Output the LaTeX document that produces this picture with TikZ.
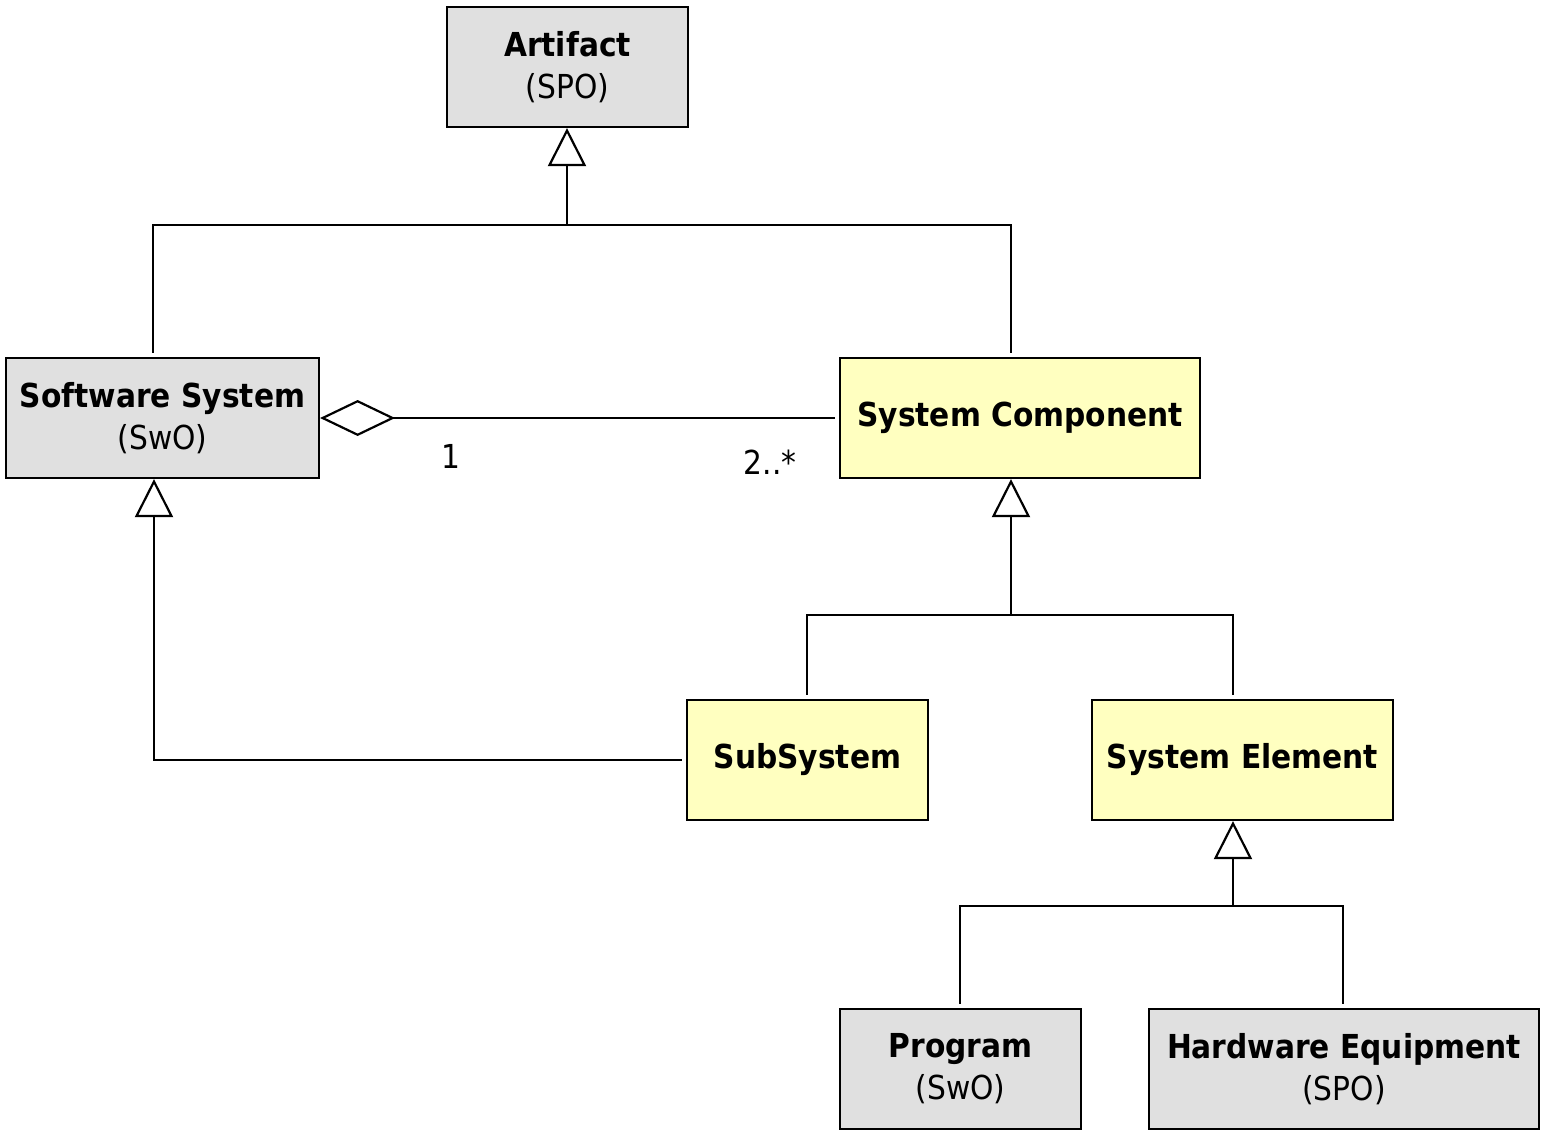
\documentclass[tikz,border=0pt]{standalone}
\usepackage{fontspec}
\setmainfont[FakeStretch=0.9]{DejaVu Sans}
\usetikzlibrary{arrows.meta}
\definecolor{boxgray}{HTML}{E0E0E0}
\definecolor{boxyellow}{HTML}{FFFFC0}
\tikzset{
  box/.style={draw=black, line width=1.1pt, align=center, inner sep=0pt,
    font=\fontsize{16.5}{21}\selectfont},
  graybox/.style={box, fill=boxgray},
  yellowbox/.style={box, fill=boxyellow},
  conn/.style={line width=1.35pt},
  gen/.style={conn, -{Triangle[open, length=19pt, width=19pt, line width=1.1pt]}},
  agg/.style={conn, -{Diamond[open, length=37.5pt, width=18pt, line width=1.1pt]}},
  mult/.style={font=\fontsize{16.5}{21}\selectfont, inner sep=0pt}
}
\begin{document}
\begin{tikzpicture}[x=0.5pt, y=-0.5pt]
\useasboundingbox (0,0) rectangle (1551,1140);
% boxes
\node[graybox, minimum width=120.5pt, minimum height=60pt] (art) at (567.5,67) {\textbf{Artifact}\\(SPO)};
\node[graybox, minimum width=156.5pt, minimum height=60pt] (ss) at (162.5,418) {\textbf{Software System}\\(SwO)};
\node[yellowbox, minimum width=180pt, minimum height=60pt] (sc) at (1020,418) {\textbf{System Component}};
\node[yellowbox, minimum width=120.5pt, minimum height=60pt] (sub) at (807.5,760) {\textbf{SubSystem}};
\node[yellowbox, minimum width=150.5pt, minimum height=60pt] (se) at (1242.5,760) {\textbf{System Element}};
\node[graybox, minimum width=120.5pt, minimum height=60pt] (prog) at (960.5,1069) {\textbf{Program}\\(SwO)};
\node[graybox, minimum width=195pt, minimum height=60pt] (hw) at (1344,1069) {\textbf{Hardware Equipment}\\(SPO)};
% junction coordinates
\coordinate (jA) at (567,225);
\coordinate (jAL) at (153,225);
\coordinate (jAR) at (1011,225);
\coordinate (jC) at (1011,615);
\coordinate (jCL) at (807,615);
\coordinate (jCR) at (1233,615);
\coordinate (jS) at (154,760);
\coordinate (jE) at (1233,906);
\coordinate (jEL) at (960,906);
\coordinate (jER) at (1343,906);
% Artifact generalization
\draw[gen] (jA) -- (jA |- art.south);
\draw[conn, shorten <=2pt, shorten >=2pt] (jAL |- ss.north) -- (jAL) -- (jAR) -- (jAR |- sc.north);
% aggregation
\draw[agg, shorten <=2pt] (sc.west) -- (ss.east);
\node[mult] (m1) at (451,456) {1};
\node[mult] (m2) at (770,462) {2..*};
% System Component generalization
\draw[gen] (jC) -- (jC |- sc.south);
\draw[conn, shorten <=2pt, shorten >=2pt] (jCL |- sub.north) -- (jCL) -- (jCR) -- (jCR |- se.north);
% SubSystem -> Software System
\draw[gen, shorten <=2pt] (sub.west) -- (jS) -- (jS |- ss.south);
% System Element generalization
\draw[gen] (jE) -- (jE |- se.south);
\draw[conn, shorten <=2pt, shorten >=2pt] (jEL |- prog.north) -- (jEL) -- (jER) -- (jER |- hw.north);
\end{tikzpicture}
\end{document}
